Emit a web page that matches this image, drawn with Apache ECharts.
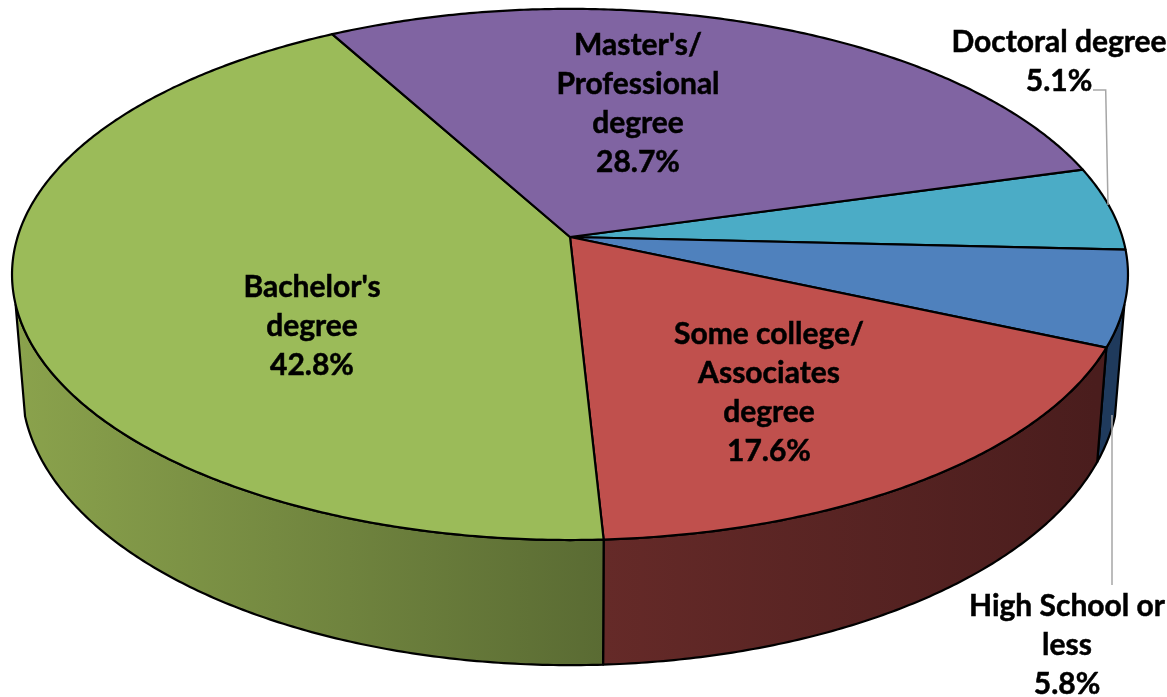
<!DOCTYPE html>
<html>
<head>
<meta charset="utf-8">
<style>html,body{margin:0;padding:0;background:#fff}#c{width:1167px;height:697px}</style>
<script src="https://cdn.jsdelivr.net/npm/echarts@6/dist/echarts.min.js"></script>
</head>
<body>
<div id="c"></div>
<script>
// ---- data ----
const categories = ["Doctoral degree", "High School or less", "Some college/ Associates degree", "Bachelor's degree", "Master's/ Professional degree"];
const labelLines = ["Doctoral degree", "High School or\nless", "Some college/\nAssociates\ndegree", "Bachelor's\ndegree", "Master's/\nProfessional\ndegree"];
const values = [5.1, 5.8, 17.6, 42.8, 28.7];
// ---- style / layout ----
const topColors = ["#4bacc6", "#4f81bd", "#c0504d", "#9bbb59", "#8064a2"];
const wallStops = [null, ["#1f3a5c", "#1f3a5c"], ["#4a1d1d", "#652a28"], ["#5a6b33", "#8aa24c"], null];
const wallGradX = [[0, 1], [1090, 1120], [1096, 604], [604, 20], [0, 1]];
const labelAt = [[1059, 62], [1067, 645], [769, 393], [312, 326], [638, 104]];
const startDeg = -15.6;
const topRim = {cx: 570, cy: 237, R: 552.4, k: 260.3, p: 0.141};
const lowRim = {cx: 570, cy: 345, R: 543, k: 275, p: 0.141};
const wallFrom = 14.5, wallTo = 165.5;
const leaders = [[[1093, 90], [1105.7, 90], [1108, 205]], [[1112, 415], [1112, 585]]];

function project(m, deg) {
  const a = deg * Math.PI / 180, X = Math.cos(a), Y = Math.sin(a), f = 1 - m.p * Y;
  return [m.cx + m.R * X / f, m.cy + m.k * Y / f];
}
function arc(m, a, b) {
  const n = Math.max(2, Math.ceil(Math.abs(b - a) * 2)), pts = [];
  for (let i = 0; i <= n; i++) pts.push(project(m, a + (b - a) * i / n));
  return pts;
}
const total = values.reduce((s, v) => s + v, 0);

function renderItem(params, api) {
  const i = params.dataIndex;
  let before = 0;
  for (let j = 0; j < i; j++) before += values[j];
  const a0 = startDeg + before / total * 360;
  const a1 = a0 + api.value(1) / total * 360;
  const children = [];
  const w0 = Math.max(a0, wallFrom), w1 = Math.min(a1, wallTo);
  if (w1 > w0 && wallStops[i]) {
    const pts = arc(topRim, w0, w1).concat(arc(lowRim, w0, w1).reverse());
    children.push({
      type: 'polygon', z2: 1,
      shape: {points: pts},
      style: {
        fill: new echarts.graphic.LinearGradient(wallGradX[i][0], 0, wallGradX[i][1], 0,
          [{offset: 0, color: wallStops[i][0]}, {offset: 1, color: wallStops[i][1]}], true),
        stroke: '#000', lineWidth: 2.2, lineJoin: 'round'
      }
    });
  }
  children.push({
    type: 'polygon', z2: 2,
    shape: {points: [[topRim.cx, topRim.cy]].concat(arc(topRim, a0, a1))},
    style: {fill: topColors[i], stroke: '#000', lineWidth: 2.2, lineJoin: 'round'}
  });
  children.push({
    type: 'text', z2: 5,
    style: {
      text: labelLines[i] + "\n" + api.value(1).toFixed(1) + "%",
      x: labelAt[i][0], y: labelAt[i][1],
      align: 'center', verticalAlign: 'middle',
      fontFamily: 'Lato', fontWeight: 'bold', fontSize: 30, lineHeight: 39,
      fill: '#000', stroke: '#000', lineWidth: 0.5
    }
  });
  return {type: 'group', children};
}

const chart = echarts.init(document.getElementById('c'), null, {renderer: 'canvas'});
chart.setOption({
  animation: false,
  backgroundColor: '#fff',
  graphic: leaders.map(points => ({
    type: 'polyline', z: 10, silent: true,
    shape: {points},
    style: {stroke: '#a6a6a6', lineWidth: 1.5, fill: null}
  })),
  series: [{
    type: 'custom',
    coordinateSystem: 'none',
    silent: true,
    clip: false,
    renderItem,
    data: values.map((v, i) => ({name: categories[i], value: [i, v]}))
  }]
});
</script>
</body>
</html>
